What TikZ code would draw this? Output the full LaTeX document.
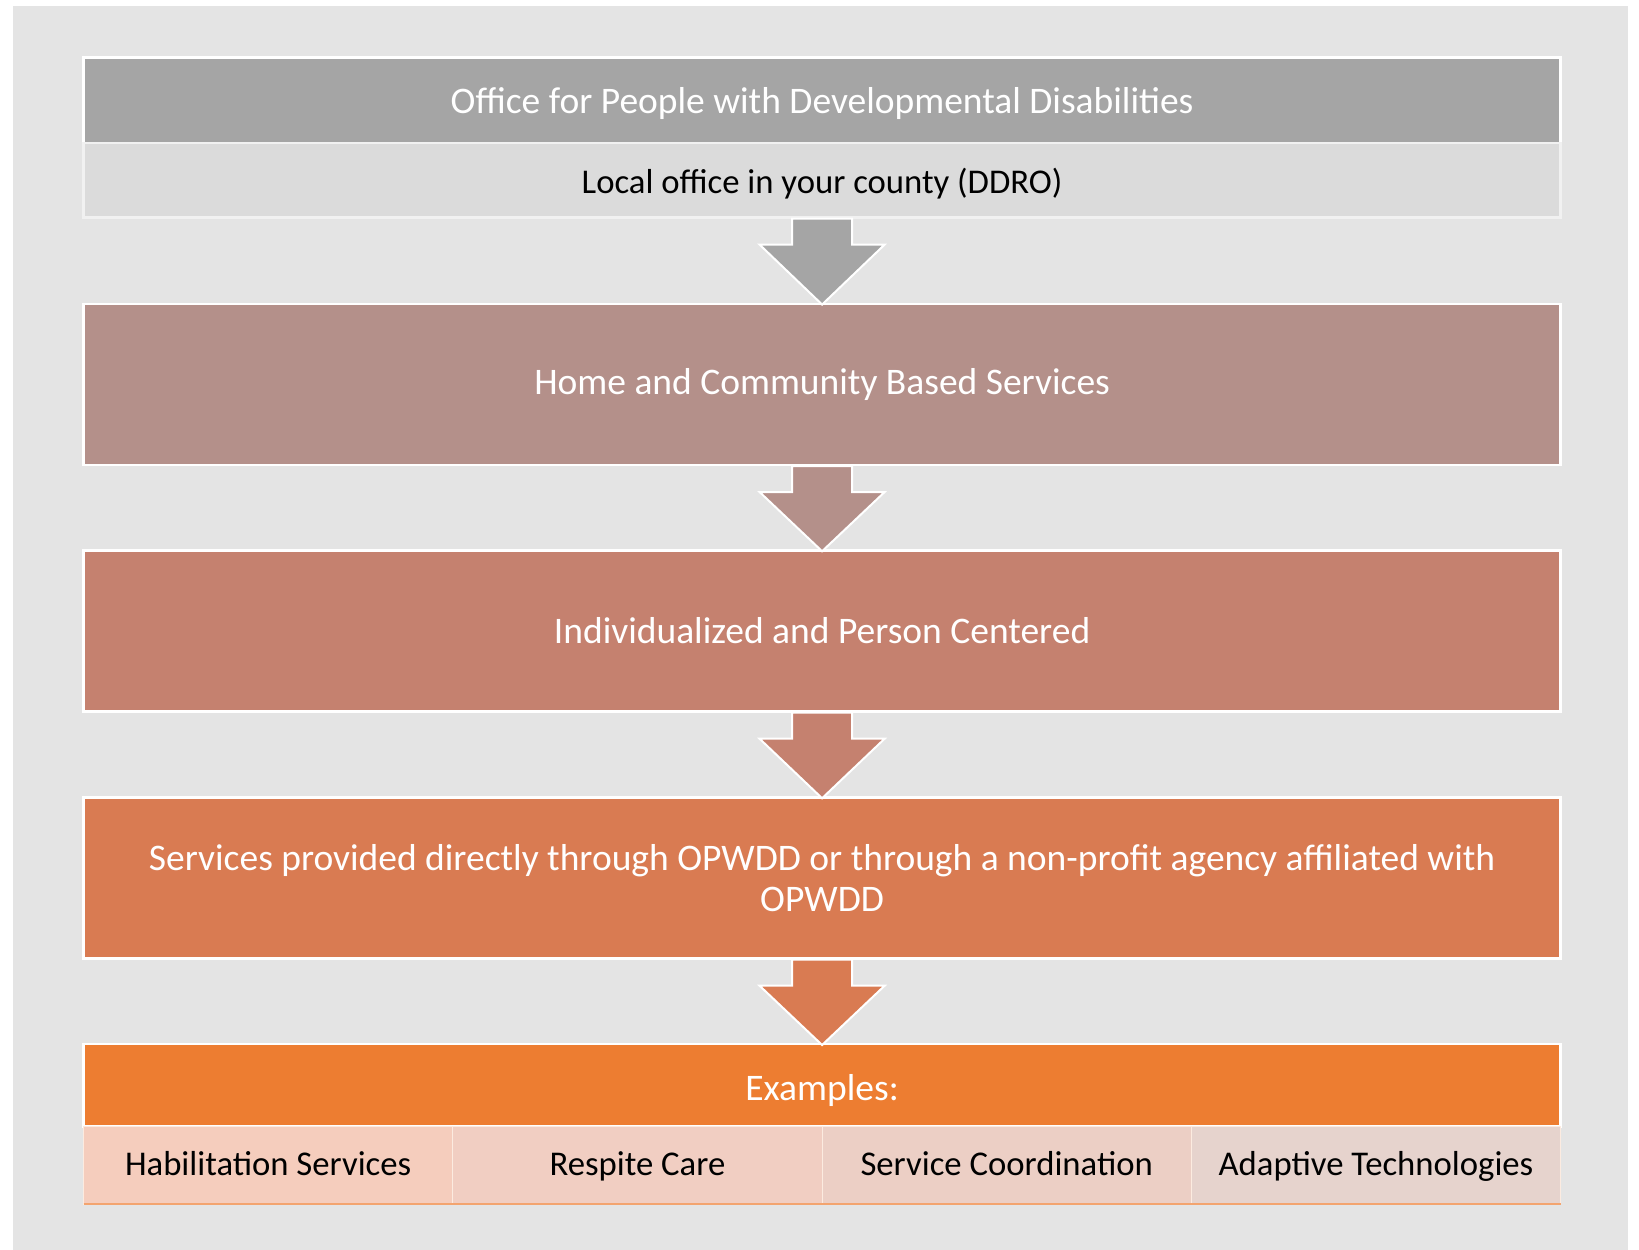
\documentclass[tikz,border=0pt]{standalone}
\usepackage{fontspec}
\setmainfont{Carlito}
\usetikzlibrary{positioning, calc}
\definecolor{panelgray}{HTML}{E4E4E4}
\definecolor{officegray}{HTML}{A5A5A5}
\definecolor{locallight}{HTML}{DBDBDB}
\definecolor{hcbsrose}{HTML}{B4908A}
\definecolor{personrose}{HTML}{C5816F}
\definecolor{providedorange}{HTML}{D97B52}
\definecolor{examplesorange}{HTML}{ED7D31}
\definecolor{habilfill}{HTML}{F5CDBD}
\definecolor{respitefill}{HTML}{F1CEC2}
\definecolor{coordfill}{HTML}{ECCFC5}
\definecolor{adaptivefill}{HTML}{E6D3CD}

\begin{document}
\begin{tikzpicture}[x=1pt, y=1pt,
    box/.style={rectangle, draw=white, line width=2.5pt, inner sep=0pt,
                minimum width=1477pt, minimum height=161pt, align=center,
                text=white, font=\fontsize{37.5}{41}\selectfont},
    cell/.style={rectangle, draw=white!85!examplesorange, line width=1pt, inner sep=0pt, outer sep=0pt,
                 minimum width=369.25pt, minimum height=77.4pt,
                 text height=26pt, text depth=6pt,
                 font=\fontsize{34.7}{38}\selectfont},
    flow/.style={draw=white, line width=2pt, line join=miter}]

    \useasboundingbox (0,0) rectangle (1639,1250);
    \fill[panelgray] (12.5,0) rectangle (1627.7,1244);

    % Boxes
    \node[box, fill=officegray, minimum height=85.5pt, text height=30pt, text depth=4pt] (office) at (822.1,1149.7)
        {Office for People with Developmental Disabilities};
    \node[box, fill=locallight, draw=white!60!locallight, minimum height=74.4pt, text height=28pt, text depth=2pt,
        text=black, font=\fontsize{34.7}{38}\selectfont] (local) at (822.1,1069.8) {Local office in your county (DDRO)};
    \node[box, fill=hcbsrose] (hcbs) at (822.1,865.7) {Home and Community Based Services};
    \node[box, fill=personrose] (person) at (822.1,619) {Individualized and Person Centered};
    \node[box, fill=providedorange] (provided) at (822.1,372)
        {Services provided directly through OPWDD or through a non-profit agency affiliated with\\OPWDD};
    \node[box, fill=examplesorange, minimum height=82.5pt, text height=32.5pt, text depth=2pt] (examples) at (822.1,164.5)
        {Examples:};

    % Examples row
    \node[cell, fill=habilfill] (habil) at (268.2,84.5) {Habilitation Services};
    \node[cell, fill=respitefill, right=0pt of habil] (respite) {Respite Care};
    \node[cell, fill=coordfill, right=0pt of respite] (coord) {Service Coordination};
    \node[cell, fill=adaptivefill, right=0pt of coord] (adaptive) {Adaptive Technologies};
    \draw[examplesorange!70!white, line width=1.5pt] (habil.south west) -- (adaptive.south east);

    % Arrows
    \draw[flow, fill=officegray] ($(local.south)+(-30,0)$) |- ($(local.south)+(-62.5,-26)$)
        -- ($(hcbs.north)+(0,-2)$) -- ($(local.south)+(62.5,-26)$) -| ($(local.south)+(30,0)$) -- cycle;
    \draw[flow, fill=hcbsrose] ($(hcbs.south)+(-30,0)$) |- ($(hcbs.south)+(-62.5,-26)$)
        -- ($(person.north)+(0,-2)$) -- ($(hcbs.south)+(62.5,-26)$) -| ($(hcbs.south)+(30,0)$) -- cycle;
    \draw[flow, fill=personrose] ($(person.south)+(-30,0)$) |- ($(person.south)+(-62.5,-26)$)
        -- ($(provided.north)+(0,-2)$) -- ($(person.south)+(62.5,-26)$) -| ($(person.south)+(30,0)$) -- cycle;
    \draw[flow, fill=providedorange] ($(provided.south)+(-30,0)$) |- ($(provided.south)+(-62.5,-26)$)
        -- ($(examples.north)+(0,-2)$) -- ($(provided.south)+(62.5,-26)$) -| ($(provided.south)+(30,0)$) -- cycle;
\end{tikzpicture}
\end{document}
